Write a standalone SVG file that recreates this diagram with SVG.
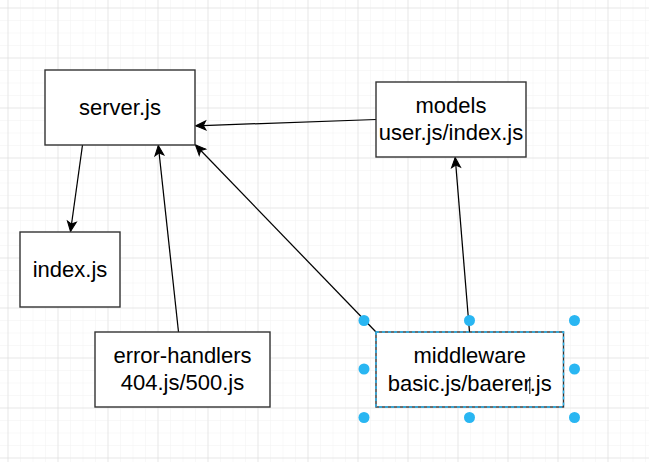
<svg xmlns="http://www.w3.org/2000/svg" width="649" height="462" viewBox="0 0 649 462">
  <defs>
    <pattern id="minor" x="7.5" y="7.5" width="12.5" height="12.5" patternUnits="userSpaceOnUse">
      <path d="M0,0 H12.5 M0,0 V12.5" fill="none" stroke="#f2f2f2" stroke-width="1"/>
    </pattern>
    <pattern id="major" x="7.5" y="7.5" width="50" height="50" patternUnits="userSpaceOnUse">
      <path d="M0,0 H50 M0,0 V50" fill="none" stroke="#dadada" stroke-width="1"/>
    </pattern>
    <marker id="arrow" markerUnits="userSpaceOnUse" markerWidth="14" markerHeight="12" viewBox="-11 -6 12 12" refX="0" refY="0" orient="auto">
      <path d="M0,0 L-10,-4.5 L-7.5,0 L-10,4.5 Z" fill="#000" stroke="#000" stroke-width="1"/>
    </marker>
  </defs>
  <style>
    .box { fill: #ffffff; stroke: #333333; stroke-width: 1.4; }
    .lbl { font-family: "Liberation Sans", Arial, Helvetica, sans-serif; font-size: 22px; fill: #000000; text-anchor: middle; }
    .edge { fill: none; stroke: #000000; stroke-width: 1.25; marker-end: url(#arrow); }
    .handle { fill: #29b6f2; }
  </style>

  <rect x="0" y="0" width="649" height="462" fill="#ffffff"/>
  <rect x="0" y="0" width="649" height="462" fill="url(#minor)"/>
  <rect x="0" y="0" width="649" height="462" fill="url(#major)"/>

  <g id="connectors">
    <line class="edge" x1="82.5" y1="145" x2="70.5" y2="231.5"/>
    <line class="edge" x1="178.5" y1="332" x2="158.3" y2="145.5"/>
    <line class="edge" x1="376" y1="332" x2="195.5" y2="145"/>
    <line class="edge" x1="376" y1="119.5" x2="195.8" y2="125.8"/>
    <line class="edge" x1="469.5" y1="332" x2="455.2" y2="157.5"/>
  </g>

  <g id="server">
    <rect class="box" x="45" y="70" width="150" height="75"/>
    <text class="lbl" x="120" y="114.5">server.js</text>
  </g>

  <g id="models">
    <rect class="box" x="376" y="82" width="150" height="75"/>
    <text class="lbl" x="451" y="112.8">models</text>
    <text class="lbl" x="451" y="140.3">user.js/index.js</text>
  </g>

  <g id="index">
    <rect class="box" x="20" y="232" width="100" height="75"/>
    <text class="lbl" x="70" y="276.5">index.js</text>
  </g>

  <g id="error-handlers">
    <rect class="box" x="95" y="332" width="175" height="75"/>
    <text class="lbl" x="182.5" y="362.8">error-handlers</text>
    <text class="lbl" x="182.5" y="390.3">404.js/500.js</text>
  </g>

  <g id="middleware">
    <rect class="box" x="376" y="332" width="187.5" height="75"/>
    <rect x="376" y="332" width="187.5" height="75" fill="none" stroke="#29b6f2" stroke-width="1.4" stroke-dasharray="3 3"/>
    <text class="lbl" x="469.75" y="363.2">middleware</text>
    <text class="lbl" x="469.75" y="390.7">basic.js/baerer.js</text>
    <line x1="529.8" y1="377" x2="529.8" y2="394" stroke="#000000" stroke-width="1"/>
  </g>

  <g id="selection-handles">
    <circle class="handle" cx="364" cy="320.5" r="5.5"/>
    <circle class="handle" cx="469.5" cy="320.5" r="5.5"/>
    <circle class="handle" cx="574.5" cy="320.5" r="5.5"/>
    <circle class="handle" cx="364" cy="369" r="5.5"/>
    <circle class="handle" cx="574.5" cy="369" r="5.5"/>
    <circle class="handle" cx="364" cy="417.5" r="5.5"/>
    <circle class="handle" cx="469.5" cy="417.5" r="5.5"/>
    <circle class="handle" cx="574.5" cy="417.5" r="5.5"/>
  </g>
</svg>
